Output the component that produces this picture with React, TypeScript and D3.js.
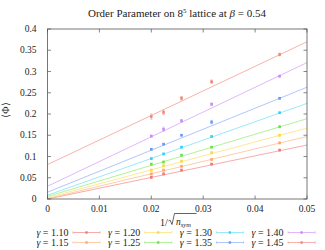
import * as d3 from 'd3';

// 1/sqrt(n_sym) for n_sym = 2500, 2000, 1500, 1000, 500
const xVals = [0.02, 0.02236, 0.02582, 0.03162, 0.04472];

const gammas = ['1.10', '1.15', '1.20', '1.25', '1.30', '1.35', '1.40', '1.45'];

const phi110 = [0.051, 0.059, 0.068, 0.082, 0.115];
const phi115 = [0.059, 0.068, 0.077, 0.093, 0.132];
const phi120 = [0.068, 0.078, 0.089, 0.109, 0.150];
const phi125 = [0.082, 0.087, 0.103, 0.122, 0.170];
const phi130 = [0.095, 0.106, 0.122, 0.147, 0.203];
const phi135 = [0.117, 0.129, 0.150, 0.181, 0.237];
const phi140 = [0.148, 0.164, 0.184, 0.223, 0.289];
const phi145 = [0.194, 0.204, 0.237, 0.276, 0.340];

const err110 = [0.002, 0.002, 0.002, 0.002, 0.002];
const err115 = [0.002, 0.002, 0.002, 0.002, 0.002];
const err120 = [0.002, 0.002, 0.002, 0.002, 0.002];
const err125 = [0.002, 0.002, 0.002, 0.002, 0.002];
const err130 = [0.002, 0.002, 0.002, 0.002, 0.002];
const err135 = [0.002, 0.002, 0.002, 0.004, 0.002];
const err140 = [0.002, 0.005, 0.003, 0.003, 0.002];
const err145 = [0.006, 0.005, 0.004, 0.004, 0.003];

// fit lines: value at x=0 and slope
const fitIntercept = [0.0, 0.001, 0.003, 0.006, 0.009, 0.016, 0.03, 0.081];
const fitSlope = [2.54, 2.92, 3.28, 3.66, 4.32, 4.94, 5.82, 5.78];

const xTicks = [0, 0.01, 0.02, 0.03, 0.04, 0.05];
const yTicks = [0, 0.05, 0.1, 0.15, 0.2, 0.25, 0.3, 0.35, 0.4];

const lineColors = ['#f5a3a0', '#ffc79e', '#fde68a', '#a8f08c', '#8ee6fb', '#a9c0fb', '#dcb0fb', '#f6aaa2'];
const markColors = ['#f07a76', '#ffa866', '#fbd84a', '#6fe04a', '#30d2f8', '#6f98f6', '#c88af8', '#f0867a'];

const allPhi = [phi110, phi115, phi120, phi125, phi130, phi135, phi140, phi145];
const allErr = [err110, err115, err120, err125, err130, err135, err140, err145];

const font = "'Liberation Serif', 'Times New Roman', serif";

const App = () => {
  const width = 325;
  const height = 250;
  const margin = { top: 29, right: 18, bottom: 51, left: 47.5 };
  const innerWidth = width - margin.left - margin.right;
  const innerHeight = height - margin.top - margin.bottom;

  const xScale = d3.scaleLinear().domain([0, 0.05]).range([0, innerWidth]);
  const yScale = d3.scaleLinear().domain([0, 0.4]).range([innerHeight, 0]);

  return (
    <div style={{ position: 'fixed', left: 0, top: 0 }}>
      <svg width={width} height={height} style={{ display: 'block', background: '#fff', fontFamily: font }}>
        <text x={177} y={17} textAnchor="middle" fontSize={11} fill="#222">
          Order Parameter on 8<tspan dy={-4} fontSize={7}>5</tspan>
          <tspan dy={4}> lattice at </tspan>
          <tspan fontStyle="italic">β</tspan> = 0.54
        </text>
        <g transform={`translate(${margin.left}, ${margin.top})`}>
          {/* fit lines */}
          {allPhi.map((s, k) => (
            <line
              key={'fit' + k}
              x1={xScale(0)}
              x2={xScale(0.05)}
              y1={yScale(fitIntercept[k])}
              y2={yScale(fitIntercept[k] + fitSlope[k] * 0.05)}
              stroke={lineColors[k]}
              strokeWidth={0.9}
            />
          ))}
          {/* data points with error bars */}
          {allPhi.map((s, k) => (
            <g key={'pts' + k}>
              {s.map((v, i) => {
                const cx = xScale(xVals[i]);
                const e = allErr[k][i];
                return (
                  <g key={i}>
                    <line x1={cx} x2={cx} y1={yScale(v - e)} y2={yScale(v + e)} stroke={lineColors[k]} strokeWidth={0.8} />
                    <line x1={cx - 1.2} x2={cx + 1.2} y1={yScale(v - e)} y2={yScale(v - e)} stroke={lineColors[k]} strokeWidth={0.8} />
                    <line x1={cx - 1.2} x2={cx + 1.2} y1={yScale(v + e)} y2={yScale(v + e)} stroke={lineColors[k]} strokeWidth={0.8} />
                    <rect x={cx - 1.3} y={yScale(v) - 1.3} width={2.6} height={2.6} fill={markColors[k]} />
                  </g>
                );
              })}
            </g>
          ))}
          {/* frame */}
          <rect x={0} y={0} width={innerWidth} height={innerHeight} fill="none" stroke="#555" strokeWidth={0.8} />
          {xTicks.map((t) => (
            <g key={'xt' + t} transform={`translate(${xScale(t)},0)`}>
              <line y1={innerHeight} y2={innerHeight - 3.5} stroke="#555" strokeWidth={0.7} />
              <line y1={0} y2={3.5} stroke="#555" strokeWidth={0.7} />
              <text y={innerHeight + 12.5} textAnchor="middle" fontSize={9.5} fill="#222">
                {t}
              </text>
            </g>
          ))}
          {yTicks.map((t) => (
            <g key={'yt' + t} transform={`translate(0,${yScale(t)})`}>
              <line x1={0} x2={3.5} stroke="#555" strokeWidth={0.7} />
              <line x1={innerWidth} x2={innerWidth - 3.5} stroke="#555" strokeWidth={0.7} />
              <text x={-11} y={3.2} textAnchor="end" fontSize={9.5} fill="#222">
                {t}
              </text>
            </g>
          ))}
          <text
            transform={`translate(${-39},${innerHeight / 2 - 4}) rotate(-90)`}
            textAnchor="middle"
            fontSize={10}
            fill="#222"
          >
            ⟨Φ⟩
          </text>
        </g>
        {/* x axis title */}
        <g fill="#222">
          <text x={160} y={226} fontSize={10}>1/</text>
          <path d="M168.5,221 l1.5,-1 l2,4.5 l2.5,-11 h22" fill="none" stroke="#222" strokeWidth={0.7} />
          <text x={176} y={225} fontSize={9.5} fontStyle="italic">
            n<tspan dy={2} fontSize={6.5}>sym</tspan>
          </text>
        </g>
        {/* legend */}
        {gammas.map((g, k) => {
          const col = Math.floor(k / 2);
          const row = k % 2;
          const tx = 68.5 + col * 71.7;
          const ty = 232.5 + row * 10;
          const lx1 = tx + 4.5;
          const lx2 = tx + 31.5;
          return (
            <g key={'lg' + g}>
              <text x={tx} y={ty + 3.2} textAnchor="end" fontSize={10} fill="#222">
                <tspan fontStyle="italic">γ</tspan> = {g}
              </text>
              <line x1={lx1} x2={lx2} y1={ty} y2={ty} stroke={lineColors[k]} strokeWidth={0.9} />
              <line x1={lx1} x2={lx1} y1={ty - 1.3} y2={ty + 1.3} stroke={lineColors[k]} strokeWidth={0.8} />
              <line x1={lx2} x2={lx2} y1={ty - 1.3} y2={ty + 1.3} stroke={lineColors[k]} strokeWidth={0.8} />
              <rect x={(lx1 + lx2) / 2 - 1.2} y={ty - 1.2} width={2.4} height={2.4} fill={markColors[k]} />
            </g>
          );
        })}
      </svg>
    </div>
  );
};

export default App;
